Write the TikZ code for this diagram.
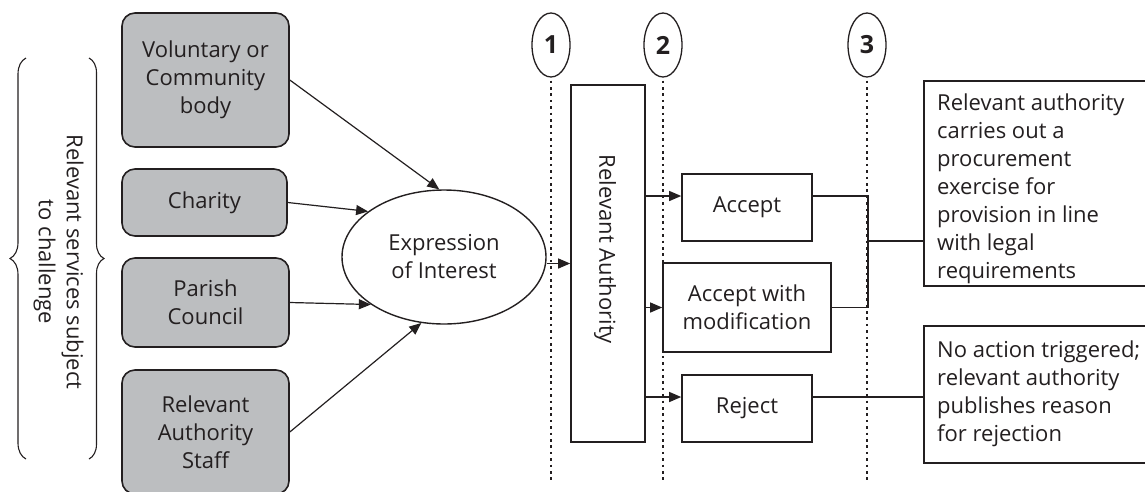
\documentclass[tikz,border=0pt]{standalone}
\usepackage{fontspec}
\setmainfont{Open Sans}
\usetikzlibrary{shapes.geometric,arrows.meta,decorations.pathreplacing}
\definecolor{boxgray}{HTML}{BCBEC0}
\definecolor{ink}{HTML}{231F20}
\begin{document}
\begin{tikzpicture}[x=1pt,y=-1pt,
  font=\fontsize{22}{28}\selectfont,
  every node/.style={text=ink},
  src/.style={draw=ink, fill=boxgray, rounded corners=13pt, line width=1.6pt, minimum width=167pt, align=center, inner sep=0pt},
  plain/.style={draw=ink, line width=1.6pt, align=center, inner sep=0pt},
  arr/.style={-{Triangle[length=12pt,width=10pt]}, line width=1.2pt, draw=ink},
  link/.style={line width=1.5pt, draw=ink},
  dots/.style={line width=2.6pt, dash pattern=on 2.6pt off 3.8pt, draw=ink},
  num/.style={draw=ink, ellipse, line width=1.3pt, minimum width=38pt, minimum height=64pt, inner sep=0pt, font=\fontsize{25}{28}\selectfont\bfseries},
  txt/.style={inner sep=0pt, align=left, anchor=north west}
]
\useasboundingbox (0,0) rectangle (1145,491);
\clip (0,0) rectangle (1145,491);

% sources
\node[src, minimum height=134pt] (vol) at (205.5,80) {Voluntary or\\Community\\body};
\node[src, minimum width=165pt, minimum height=67pt] (cha) at (204.5,202.5) {Charity};
\node[src, minimum height=89pt] (par) at (205.5,302.5) {Parish\\Council};
\node[src, minimum height=124pt] (sta) at (205.5,432) {Relevant\\Authority\\Staff};

% brace and label
\draw[line width=1.1pt, draw=ink, decorate, decoration={brace, amplitude=16pt}] (26,459) -- (26,58);
\draw[line width=1.1pt, draw=ink, decorate, decoration={brace, amplitude=15pt}] (89,58) -- (89,459);
\node[rotate=-90, align=center] (lbl) at (58.5,262) {Relevant services subject\\to challenge};

% expression of interest
\node[draw=ink, ellipse, line width=1.4pt, minimum width=204pt, minimum height=134pt, inner sep=0pt, align=center] (eoi) at (444,257) {Expression\\of Interest};

\draw[arr] (vol.east) -- (eoi.94);
\draw[arr] (cha.east) -- (eoi.149);
\draw[arr] (par.east) -- (eoi.213);
\draw[arr] (sta.east) -- (eoi.251);

% stage markers
\node[num] (n1) at (551,45) {1};
\node[num] (n2) at (663,45) {2};
\node[num] (n3) at (867,45) {3};
\coordinate (bot) at (0,481);
\draw[dots, shorten <=3pt] (n1.south) -- (n1.south |- bot);
\draw[dots, shorten <=3pt] (n2.south) -- (n2.south |- bot);
\draw[dots, shorten <=3pt] (n3.south) -- (n3.south |- bot);

% relevant authority
\node[plain, minimum width=74pt, minimum height=357pt] (ra) at (608,263.5) {};
\node[rotate=-90, inner sep=0pt] (ratext) at (605,249.5) {Relevant Authority};
\draw[arr] (eoi.east |- ra.west) -- (ra.west);

% decisions
\node[plain, fill=white, minimum width=130pt, minimum height=67pt] (acc) at (747,207.5) {Accept};
\node[plain, fill=white, minimum width=168pt, minimum height=89pt] (awm) at (747,307.5) {Accept with\\modification};
\node[plain, fill=white, minimum width=130pt, minimum height=67pt] (rej) at (747,408.5) {Reject};

\coordinate (ya) at (0,196);
\coordinate (yr) at (0,397);
\coordinate (j) at (868,241);
\draw[arr] (ra.east |- ya) -- (acc.west |- ya);
\draw[arr] (ra.east |- awm.west) -- (awm.west);
\draw[arr] (ra.east |- yr) -- (rej.west |- yr);

% outcomes
\node[plain, anchor=north west, minimum width=227pt, minimum height=205pt] (proc) at (923,80) {};
\node[txt] (proctext) at (937,94) {Relevant authority\\carries out a\\procurement\\exercise for\\provision in line\\with legal\\requirements};
\node[plain, anchor=north west, minimum width=227pt, minimum height=137pt] (noact) at (923,325) {};
\node[txt] (noacttext) at (937,341) {No action triggered;\\relevant authority\\publishes reason\\for rejection};

\draw[link] (acc.east |- ya) -| (j |- awm.east) -- (awm.east);
\draw[link] (j) -- (proc.west |- j);
\draw[link] (rej.east |- yr) -- (noact.west |- yr);
\end{tikzpicture}
\end{document}
